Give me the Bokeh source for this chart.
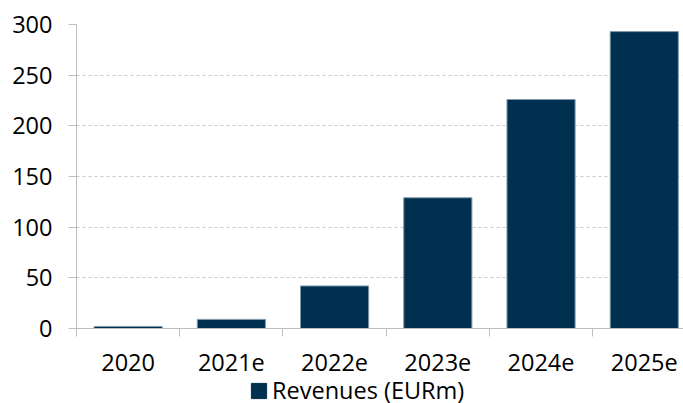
from bokeh.plotting import figure
from bokeh.layouts import column
from bokeh.models import FixedTicker, Range1d, Legend, LegendItem, ColumnDataSource
from bokeh.embed import file_html
from bokeh.resources import INLINE

categories = ["2020", "2021e", "2022e", "2023e", "2024e", "2025e"]
revenues = [2, 9, 42, 129, 226, 293]
y_ticks = [0, 50, 100, 150, 200, 250, 300]
series_name = "Revenues (EURm)"

FONT = "Open Sans"
FS = "23.5px"
BAR = "#00304f"
EDGE = "#8298ab"

xs = [i + 0.5 for i in range(len(categories))]
src = ColumnDataSource(dict(x=xs, top=revenues, cat=categories))

p = figure(width=683, height=378, output_backend="svg", toolbar_location=None,
           x_range=Range1d(0, 5.88), y_range=Range1d(0, 300),
           min_border_left=76, min_border_right=0, min_border_top=24, min_border_bottom=50)
p.outline_line_color = None
p.background_fill_color = "white"
p.border_fill_color = "white"

p.vbar(x="x", top="top", width=0.66, source=src, fill_color=BAR,
       line_color=EDGE, line_width=1)

# x axis
p.xaxis.ticker = FixedTicker(ticks=xs, minor_ticks=list(range(len(categories) + 1)))
p.xaxis.major_label_overrides = {x: c for x, c in zip(xs, categories)}
p.xaxis.major_tick_out = 0
p.xaxis.major_tick_in = 0
p.xaxis.minor_tick_out = 8
p.xaxis.minor_tick_in = 0
p.xaxis.minor_tick_line_color = "#bfbfbf"
p.xaxis.axis_line_color = "#bfbfbf"
p.xaxis.major_label_text_font = FONT
p.xaxis.major_label_text_font_size = FS
p.xaxis.major_label_text_color = "black"
p.xaxis.major_label_standoff = 17

# y axis
p.yaxis.ticker = FixedTicker(ticks=y_ticks)
p.yaxis.major_tick_out = 8
p.yaxis.major_tick_in = 0
p.yaxis.minor_tick_line_color = None
p.yaxis.major_tick_line_color = "#bfbfbf"
p.yaxis.axis_line_color = "#bfbfbf"
p.yaxis.major_label_text_font = FONT
p.yaxis.major_label_text_font_size = FS
p.yaxis.major_label_text_color = "black"
p.yaxis.major_label_standoff = 16

p.xgrid.grid_line_color = None
p.ygrid.grid_line_color = "#c8c8c8"
p.ygrid.grid_line_dash = "3 3"
p.ygrid.grid_line_width = 1

# legend strip below the chart
lf = figure(width=683, height=25, output_backend="svg", toolbar_location=None,
            x_range=Range1d(0, 1), y_range=Range1d(0, 1),
            min_border_left=0, min_border_right=0, min_border_top=0, min_border_bottom=0)
lf.axis.visible = False
lf.grid.visible = False
lf.outline_line_color = None
lf.border_fill_color = "white"
# a bar kept outside the visible range, only to give the legend its swatch
lr = lf.vbar(x=[5], top=[5], width=0.5, fill_color=BAR, line_color=BAR)
legend = Legend(items=[LegendItem(label=series_name, renderers=[lr])],
                location=(173, -3), orientation="horizontal",
                label_text_font=FONT, label_text_font_size=FS,
                label_text_color="black", glyph_width=19, glyph_height=19,
                label_standoff=4, padding=0, margin=0, spacing=0,
                border_line_color=None, background_fill_alpha=0)
lf.add_layout(legend, "center")

layout = column(p, lf, spacing=0)
open("out.html", "w").write(file_html(layout, INLINE))
